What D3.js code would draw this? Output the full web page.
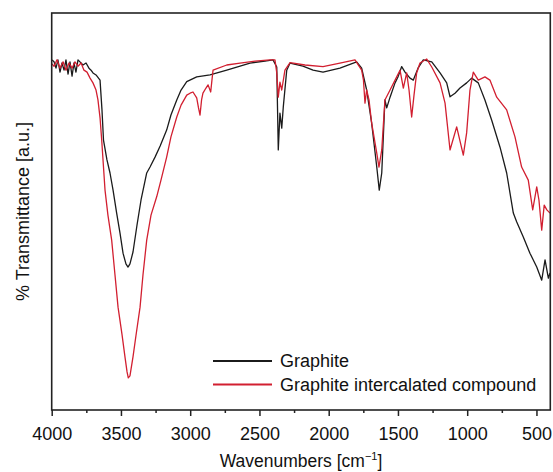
<!DOCTYPE html>
<html>
<head>
<meta charset="utf-8">
<script src="https://cdn.jsdelivr.net/npm/d3@7"></script>
<style>
  html, body { margin: 0; padding: 0; background: #fff; }
  svg { display: block; font-family: "Liberation Sans", Arial, sans-serif; }
</style>
</head>
<body>
<svg id="chart" width="553" height="472"></svg>
<script>
// FTIR spectra: wavenumber (cm^-1) and transmittance (arbitrary units)
const graphiteWavenumber = [3998, 3983, 3969, 3955, 3940, 3926, 3911, 3897, 3882, 3868, 3853, 3839, 3825, 3810, 3796, 3774, 3752, 3731, 3716, 3702, 3680, 3651, 3637, 3626, 3601, 3579, 3557, 3531, 3507, 3485, 3464, 3449, 3435, 3413, 3384, 3355, 3314, 3290, 3254, 3217, 3170, 3139, 3097, 3066, 3025, 2953, 2857, 2736, 2640, 2568, 2460, 2402, 2375, 2364, 2352, 2339, 2328, 2303, 2279, 2186, 2113, 2041, 1919, 1798, 1762, 1726, 1690, 1653, 1635, 1617, 1594, 1581, 1557, 1521, 1500, 1473, 1449, 1413, 1389, 1355, 1317, 1256, 1196, 1148, 1124, 1088, 1052, 1004, 968, 920, 872, 823, 763, 715, 667, 643, 595, 547, 498, 462, 438, 414, 402];
const graphiteTransmittance = [88.2, 87.7, 86.1, 88.2, 85.1, 87.4, 85.6, 88.2, 84.6, 87.7, 84.1, 87.4, 85.1, 88.2, 87.7, 86.9, 87.4, 86.1, 85.6, 84.9, 84.4, 83.1, 75.6, 68.0, 63.0, 59.7, 55.4, 49.6, 44.6, 39.5, 36.8, 36.0, 36.8, 39.8, 46.6, 52.9, 59.7, 61.2, 63.7, 66.5, 70.5, 74.3, 78.1, 80.6, 82.7, 83.9, 84.4, 85.6, 86.6, 87.4, 87.9, 88.2, 86.4, 65.5, 74.8, 71.0, 76.3, 85.6, 87.4, 86.6, 85.6, 85.1, 86.1, 87.7, 86.1, 80.6, 72.3, 61.2, 55.4, 59.7, 78.1, 76.1, 78.8, 82.4, 83.9, 86.5, 85.1, 83.6, 83.1, 86.1, 88.2, 87.7, 84.9, 82.4, 78.9, 79.8, 81.1, 82.4, 83.6, 82.4, 78.1, 73.0, 66.2, 59.7, 49.6, 47.4, 43.6, 39.5, 36.0, 32.7, 37.8, 33.2, 34.5];

const gicWavenumber = [3998, 3983, 3962, 3940, 3918, 3897, 3875, 3853, 3832, 3810, 3788, 3767, 3745, 3723, 3702, 3680, 3666, 3651, 3639, 3615, 3594, 3567, 3543, 3521, 3492, 3471, 3456, 3447, 3435, 3413, 3391, 3362, 3341, 3314, 3283, 3242, 3211, 3170, 3139, 3097, 3066, 3025, 3001, 2980, 2953, 2940, 2929, 2918, 2908, 2886, 2871, 2852, 2843, 2835, 2736, 2640, 2532, 2424, 2388, 2375, 2364, 2352, 2339, 2316, 2279, 2171, 2041, 1919, 1810, 1762, 1749, 1738, 1726, 1709, 1690, 1653, 1637, 1617, 1594, 1557, 1509, 1485, 1461, 1437, 1420, 1401, 1384, 1365, 1341, 1292, 1256, 1196, 1160, 1124, 1076, 1028, 1004, 980, 956, 920, 872, 836, 787, 715, 655, 607, 559, 527, 498, 482, 462, 444, 425, 402];
const gicTransmittance = [87.2, 86.6, 88.2, 86.1, 87.7, 85.6, 87.4, 86.1, 87.7, 86.6, 87.4, 85.6, 85.1, 83.6, 82.4, 80.6, 78.1, 73.6, 68.0, 55.4, 49.1, 42.8, 34.0, 25.9, 18.9, 13.4, 9.6, 8.1, 8.6, 13.4, 18.9, 25.9, 34.0, 42.8, 49.1, 53.7, 57.9, 63.7, 68.8, 73.8, 76.8, 79.3, 79.8, 80.1, 78.6, 76.1, 74.3, 78.1, 79.8, 81.1, 81.9, 80.1, 83.1, 85.6, 86.9, 87.4, 87.9, 88.2, 88.2, 84.9, 78.8, 82.6, 80.6, 85.6, 87.5, 86.9, 86.5, 87.4, 88.2, 85.6, 83.1, 77.3, 80.6, 78.1, 72.3, 64.7, 61.2, 65.5, 78.1, 80.6, 83.9, 85.6, 81.1, 84.9, 80.6, 73.8, 79.3, 84.9, 87.4, 88.4, 86.4, 82.4, 77.3, 65.5, 71.3, 64.2, 69.8, 80.6, 85.1, 83.1, 83.9, 83.1, 78.8, 75.6, 68.8, 61.2, 57.9, 50.4, 56.2, 52.9, 45.3, 51.6, 50.4, 49.6];

const majorTicks = [4000, 3500, 3000, 2500, 2000, 1500, 1000, 500];
const minorTicks = [3750, 3250, 2750, 2250, 1750, 1250, 750];

const seriesNames = ["Graphite", "Graphite intercalated compound"];
const seriesColors = ["#1b1b1b", "#d21f30"];

const svg = d3.select("#chart");
const margin = { left: 51.7, right: 2.7, top: 13, bottom: 62 };
const W = 553, H = 472;
const x0 = margin.left, x1 = W - margin.right;
const y0 = H - margin.bottom, y1 = margin.top;

const x = d3.scaleLinear().domain([4000, 400]).range([x0, x1]);
const y = d3.scaleLinear().domain([0, 100]).range([y0, y1]);

const series = [
  { name: seriesNames[0], color: seriesColors[0], data: d3.zip(graphiteWavenumber, graphiteTransmittance) },
  { name: seriesNames[1], color: seriesColors[1], data: d3.zip(gicWavenumber, gicTransmittance) }
];

const line = d3.line().x(d => x(d[0])).y(d => y(d[1]));

// spectra (drawn black first, red over it)
svg.append("g").selectAll("path")
  .data(series)
  .join("path")
  .attr("d", d => line(d.data))
  .attr("fill", "none")
  .attr("stroke", d => d.color)
  .attr("stroke-width", 1.3)
  .attr("stroke-linejoin", "round");

// minor ticks
const minorAxis = d3.axisBottom(x).tickValues(minorTicks).tickSize(3).tickFormat("").tickSizeOuter(0);
svg.append("g").attr("transform", `translate(0,${y0})`).call(minorAxis)
  .call(g => g.select(".domain").remove())
  .call(g => g.selectAll("line").attr("stroke", "#222").attr("stroke-width", 1.5));

// major ticks with labels
const majorAxis = d3.axisBottom(x).tickValues(majorTicks).tickSize(6).tickPadding(11).tickSizeOuter(0).tickFormat(d3.format("d"));
svg.append("g").attr("transform", `translate(0,${y0})`).call(majorAxis)
  .call(g => g.select(".domain").remove())
  .call(g => g.selectAll("line").attr("stroke", "#222").attr("stroke-width", 1.5))
  .call(g => g.selectAll("text").attr("font-size", 18).attr("fill", "#111").attr("font-family", "Liberation Sans, Arial, sans-serif"));

// plot frame
svg.append("rect")
  .attr("x", x0).attr("y", y1)
  .attr("width", x1 - x0).attr("height", y0 - y1)
  .attr("fill", "none").attr("stroke", "#222").attr("stroke-width", 1.6);

// axis titles
const xt = svg.append("text")
  .attr("x", (x0 + x1) / 2).attr("y", 467)
  .attr("text-anchor", "middle").attr("font-size", 17.5).attr("fill", "#111");
xt.append("tspan").text("Wavenumbers [cm");
xt.append("tspan").text("\u22121").attr("font-size", 11).attr("dy", -7);
xt.append("tspan").text("]").attr("dy", 7);

svg.append("text")
  .attr("transform", `translate(29,${(y0 + y1) / 2}) rotate(-90)`)
  .attr("text-anchor", "middle").attr("font-size", 18).attr("fill", "#111")
  .text("% Transmittance [a.u.]");

// legend
const legend = svg.append("g");
const legendRows = legend.selectAll("g").data(series).join("g")
  .attr("transform", (d, i) => `translate(213,${361 + i * 23.5})`);
legendRows.append("line")
  .attr("x1", 0).attr("x2", 59).attr("y1", 0).attr("y2", 0)
  .attr("stroke", d => d.color).attr("stroke-width", 2);
legendRows.append("text")
  .attr("x", 67).attr("y", 0).attr("dy", "0.36em")
  .attr("font-size", 18).attr("fill", "#111")
  .text(d => d.name);
</script>
</body>
</html>
